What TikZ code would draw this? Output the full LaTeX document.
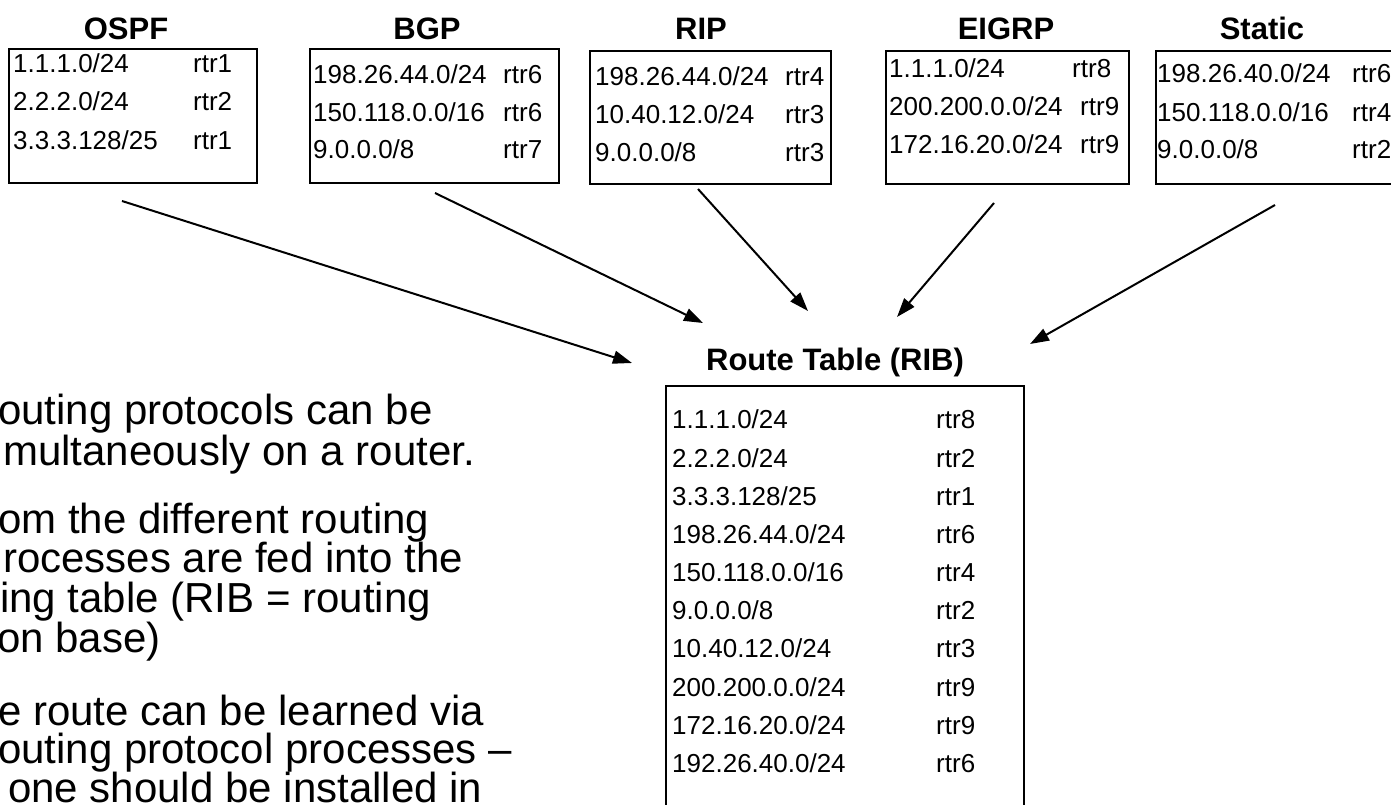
\documentclass[tikz,border=0pt]{standalone}
\usepackage{fontspec}
\setmainfont{Liberation Sans}
\usetikzlibrary{arrows.meta}
\begin{document}
\begin{tikzpicture}[x=1pt,y=-1pt,
  box/.style={draw, line width=1.8pt, inner sep=0pt, outer sep=0pt, anchor=north west},
  ttl/.style={font=\fontsize{31}{36}\selectfont\bfseries, anchor=base, inner sep=0pt},
  ent/.style={font=\fontsize{26}{30}\selectfont, anchor=base west, inner sep=0pt},
  para/.style={font=\fontsize{42}{48}\selectfont, anchor=base west, inner sep=0pt},
  feed/.style={line width=2pt, -{Triangle[length=19pt,width=13pt]}}]
\useasboundingbox (0,0) rectangle (1391,805);
\fill[white] (0,0) rectangle (1391,805);
\clip (0,0) rectangle (1391,805);

% boxes
\node[box, minimum width=248pt, minimum height=134pt] (ospf) at (9,49) {};
\node[box, minimum width=249pt, minimum height=134pt] (bgp) at (310,49) {};
\node[box, minimum width=241pt, minimum height=133pt] (rip) at (590,51) {};
\node[box, minimum width=243pt, minimum height=133pt] (eigrp) at (886,51) {};
\node[box, minimum width=260pt, minimum height=133pt] (static) at (1156,51) {};
\node[box, minimum width=358pt, minimum height=450pt] (rib) at (666,386) {};

% titles
\node[ttl] (tospf) at (126,40) {OSPF};
\node[ttl] (tbgp) at (427,40) {BGP};
\node[ttl] (trip) at (701,40) {RIP};
\node[ttl] (teigrp) at (1006,40) {EIGRP};
\node[ttl] (tstatic) at (1262,40) {Static};
\node[ttl] (trib) at (835,370) {Route Table (RIB)};

% OSPF entries
\node[ent] (o1p) at (13,73) {1.1.1.0/24};   \node[ent] (o1r) at (193,73) {rtr1};
\node[ent] (o2p) at (13,111) {2.2.2.0/24};  \node[ent] (o2r) at (193,111) {rtr2};
\node[ent] (o3p) at (13,150) {3.3.3.128/25};\node[ent] (o3r) at (193,150) {rtr1};
% BGP entries
\node[ent] (b1p) at (313,84) {198.26.44.0/24};  \node[ent] (b1r) at (503,84) {rtr6};
\node[ent] (b2p) at (313,122) {150.118.0.0/16}; \node[ent] (b2r) at (503,122) {rtr6};
\node[ent] (b3p) at (313,159) {9.0.0.0/8};      \node[ent] (b3r) at (503,159) {rtr7};
% RIP entries
\node[ent] (r1p) at (595,86) {198.26.44.0/24};  \node[ent] (r1r) at (785,86) {rtr4};
\node[ent] (r2p) at (595,124) {10.40.12.0/24};  \node[ent] (r2r) at (785,124) {rtr3};
\node[ent] (r3p) at (595,162) {9.0.0.0/8};      \node[ent] (r3r) at (785,162) {rtr3};
% EIGRP entries
\node[ent] (e1p) at (889,78) {1.1.1.0/24};      \node[ent] (e1r) at (1072,78) {rtr8};
\node[ent] (e2p) at (889,116) {200.200.0.0/24}; \node[ent] (e2r) at (1080,116) {rtr9};
\node[ent] (e3p) at (889,154) {172.16.20.0/24}; \node[ent] (e3r) at (1080,154) {rtr9};
% Static entries
\node[ent] (s1p) at (1157,83) {198.26.40.0/24};  \node[ent] (s1r) at (1352,83) {rtr6};
\node[ent] (s2p) at (1157,122) {150.118.0.0/16}; \node[ent] (s2r) at (1352,122) {rtr4};
\node[ent] (s3p) at (1157,159) {9.0.0.0/8};      \node[ent] (s3r) at (1352,159) {rtr2};

% RIB entries
\node[ent] (t1p) at (672,428) {1.1.1.0/24};      \node[ent] (t1r) at (936,428) {rtr8};
\node[ent] (t2p) at (672,467) {2.2.2.0/24};      \node[ent] (t2r) at (936,467) {rtr2};
\node[ent] (t3p) at (672,505) {3.3.3.128/25};    \node[ent] (t3r) at (936,505) {rtr1};
\node[ent] (t4p) at (672,543) {198.26.44.0/24};  \node[ent] (t4r) at (936,543) {rtr6};
\node[ent] (t5p) at (672,581) {150.118.0.0/16};  \node[ent] (t5r) at (936,581) {rtr4};
\node[ent] (t6p) at (672,619) {9.0.0.0/8};       \node[ent] (t6r) at (936,619) {rtr2};
\node[ent] (t7p) at (672,657) {10.40.12.0/24};   \node[ent] (t7r) at (936,657) {rtr3};
\node[ent] (t8p) at (672,696) {200.200.0.0/24};  \node[ent] (t8r) at (936,696) {rtr9};
\node[ent] (t9p) at (672,734) {172.16.20.0/24};  \node[ent] (t9r) at (936,734) {rtr9};
\node[ent] (t10p) at (672,772) {192.26.40.0/24}; \node[ent] (t10r) at (936,772) {rtr6};

% connectors
\coordinate (aO) at (122,201); \coordinate (hO) at (632,363);
\coordinate (aB) at (435,193); \coordinate (hB) at (703,323);
\coordinate (aR) at (698,189); \coordinate (hR) at (808,311);
\coordinate (aE) at (994,203); \coordinate (hE) at (897,317);
\coordinate (aS) at (1275,205); \coordinate (hS) at (1030,344);
\draw[feed] (aO) -- (hO);
\draw[feed] (aB) -- (hB);
\draw[feed] (aR) -- (hR);
\draw[feed] (aE) -- (hE);
\draw[feed] (aS) -- (hS);

% left text (cropped in the reference)
\node[para] (l1) at (-2,424) {outing protocols can be};
\node[para] (l2) at (3,465) {multaneously on a router.};
\node[para] (l3) at (-2,533) {om the different routing};
\node[para] (l4) at (3,572) {rocesses are fed into the};
\node[para] (l5) at (0,612) {ing table (RIB = routing};
\node[para] (l6) at (-3,652) {on base)};
\node[para] (l7) at (-2,725) {e route can be learned via};
\node[para] (l8) at (-2,763) {outing protocol processes –};
\node[para] (l9) at (8,802) {one should be installed in};
\end{tikzpicture}
\end{document}
